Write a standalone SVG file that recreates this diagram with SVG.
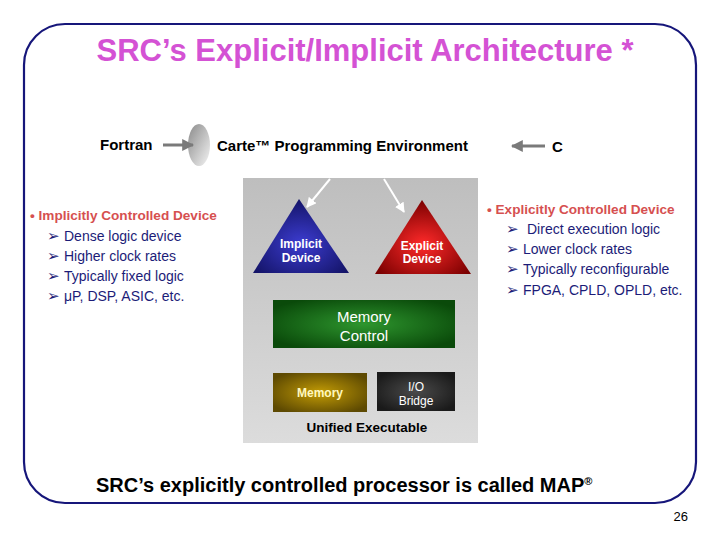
<svg xmlns="http://www.w3.org/2000/svg" width="720" height="540" viewBox="0 0 720 540">
<defs>
<linearGradient id="gBox" x1="0" y1="0" x2="0" y2="1"><stop offset="0" stop-color="#bebebe"/><stop offset="1" stop-color="#dcdcdc"/></linearGradient>
<linearGradient id="gEll" x1="0" y1="0" x2="1" y2="1"><stop offset="0" stop-color="#8a8a8a"/><stop offset="1" stop-color="#f4f4f4"/></linearGradient>
<radialGradient id="gBlue" cx="0.5" cy="0.6" r="0.6"><stop offset="0" stop-color="#3c3cd0"/><stop offset="1" stop-color="#141468"/></radialGradient>
<radialGradient id="gRed" cx="0.5" cy="0.6" r="0.6"><stop offset="0" stop-color="#ff2a2a"/><stop offset="1" stop-color="#7a0000"/></radialGradient>
<radialGradient id="gGreen" cx="0.5" cy="0.5" r="0.6"><stop offset="0" stop-color="#2e962e"/><stop offset="1" stop-color="#0a4a0a"/></radialGradient>
<radialGradient id="gGold" cx="0.5" cy="0.5" r="0.6"><stop offset="0" stop-color="#c29b05"/><stop offset="1" stop-color="#5e4a02"/></radialGradient>
<radialGradient id="gDark" cx="0.5" cy="0.5" r="0.6"><stop offset="0" stop-color="#4a4a4a"/><stop offset="1" stop-color="#1a1a1a"/></radialGradient>
<marker id="aGray" viewBox="0 0 10 10" refX="9" refY="5" markerWidth="4" markerHeight="4" orient="auto"><path d="M0,0 L10,5 L0,10 z" fill="#7a7a7a"/></marker>
<marker id="aWhite" viewBox="0 0 10 10" refX="9" refY="5" markerWidth="5" markerHeight="5" orient="auto"><path d="M0,0 L10,5 L0,10 z" fill="#ffffff"/></marker>
</defs>
<style>
text{font-family:"Liberation Sans",Arial,sans-serif}
.title{font-size:31px;font-weight:bold;fill:#d452d4}
.lbl{font-size:15px;font-weight:bold;fill:#000}
.hdr{font-size:13.6px;font-weight:bold;fill:#d65050}
.item{font-size:14px;fill:#1c1c78}
.arr{font-family:"DejaVu Sans",sans-serif;font-size:15px;fill:#1c1c78}
.wt{font-size:12px;font-weight:bold;fill:#fff;text-anchor:middle}
.conn{stroke-width:3;fill:none}
</style>
<rect x="24" y="24" width="672" height="479" rx="41" ry="41" fill="#fff" stroke="#16167a" stroke-width="2.2"/>
<text class="title" x="365" y="61" text-anchor="middle">SRC’s Explicit/Implicit Architecture *</text>

<g id="fortran"><text class="lbl" x="100" y="150">Fortran</text></g>
<g id="ellipse"><ellipse cx="199" cy="145" rx="11" ry="21" fill="url(#gEll)"/></g>
<g id="carte"><text class="lbl" x="217" y="151">Carte™ Programming Environment</text></g>
<g id="c"><text class="lbl" x="552" y="152">C</text></g>

<g id="unified">
<rect x="243" y="178" width="235" height="265" fill="url(#gBox)"/>
<text x="367" y="432" text-anchor="middle" style="font-size:13.5px;font-weight:bold">Unified Executable</text>
</g>

<g id="connectors">
<line class="conn" x1="163" y1="145" x2="193" y2="145" stroke="#7a7a7a" marker-end="url(#aGray)"/>
<line class="conn" x1="545" y1="146" x2="512" y2="146" stroke="#7a7a7a" marker-end="url(#aGray)"/>
<line x1="330" y1="179" x2="307" y2="207" stroke="#fff" stroke-width="2" marker-end="url(#aWhite)"/>
<line x1="384" y1="179" x2="404" y2="212" stroke="#fff" stroke-width="2" marker-end="url(#aWhite)"/>
</g>

<g id="implicit">
<polygon points="299,199 349,273 253,273" fill="url(#gBlue)"/>
<text class="wt" x="301" y="248">Implicit</text>
<text class="wt" x="301" y="262">Device</text>
</g>
<g id="explicit">
<polygon points="422,200 471,274 375,274" fill="url(#gRed)"/>
<text class="wt" x="422" y="250">Explicit</text>
<text class="wt" x="422" y="263">Device</text>
</g>
<g id="memctl">
<rect x="273" y="300" width="182" height="48" fill="url(#gGreen)"/>
<text x="364" y="322" text-anchor="middle" style="font-size:15px;fill:#fff">Memory</text>
<text x="364" y="341" text-anchor="middle" style="font-size:15px;fill:#fff">Control</text>
</g>
<g id="memory">
<rect x="273" y="373" width="94" height="39" fill="url(#gGold)"/>
<text x="320" y="397" text-anchor="middle" style="font-size:12px;font-weight:bold;fill:#fff8c0">Memory</text>
</g>
<g id="iobridge">
<rect x="377" y="372" width="78" height="39" fill="url(#gDark)"/>
<text class="wt" x="416" y="391" style="font-weight:normal">I/O</text>
<text class="wt" x="416" y="405" style="font-weight:normal">Bridge</text>
</g>

<g id="leftlist">
<text class="hdr" x="30" y="220">• Implicitly Controlled Device</text>
<text class="arr" x="47" y="241">➢</text><text class="item" x="64" y="241">Dense logic device</text>
<text class="arr" x="47" y="261">➢</text><text class="item" x="64" y="261">Higher clock rates</text>
<text class="arr" x="47" y="281">➢</text><text class="item" x="64" y="281">Typically fixed logic</text>
<text class="arr" x="47" y="301">➢</text><text class="item" x="64" y="301">μP, DSP, ASIC, etc.</text>
</g>
<g id="rightlist">
<text class="hdr" x="487" y="214">• Explicitly Controlled Device</text>
<text class="arr" x="506" y="234">➢</text><text class="item" x="527" y="234">Direct execution logic</text>
<text class="arr" x="506" y="254">➢</text><text class="item" x="523" y="254">Lower clock rates</text>
<text class="arr" x="506" y="274">➢</text><text class="item" x="523" y="274">Typically reconfigurable</text>
<text class="arr" x="506" y="295">➢</text><text class="item" x="523" y="295">FPGA, CPLD, OPLD, etc.</text>
</g>

<text x="96" y="492" style="font-size:20px;font-weight:bold">SRC’s explicitly controlled processor is called MAP<tspan dy="-7" style="font-size:11px">®</tspan></text>
<text x="688" y="521" text-anchor="end" style="font-size:13px">26</text>
</svg>
